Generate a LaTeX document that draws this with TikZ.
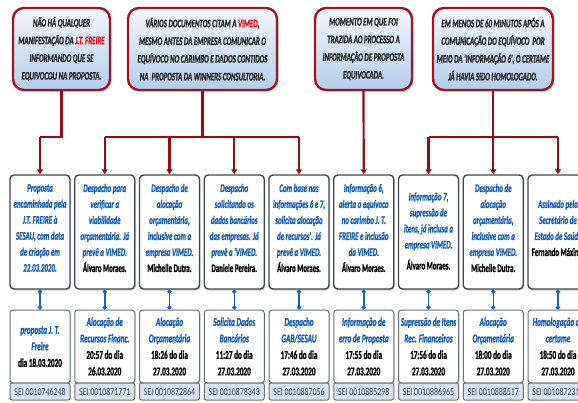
\documentclass[tikz,border=0pt]{standalone}
\usepackage{fontspec}
\setmainfont{Carlito}
\newfontfamily\cbfont{Carlito Bold Italic}[FakeStretch=0.6, FakeBold=1.2]
\newfontfamily\cnfont{Carlito Bold}[FakeStretch=0.6, FakeBold=1.2]
\newfontfamily\seifont{Carlito}[FakeStretch=0.75]
\usetikzlibrary{shadows,arrows.meta}
\definecolor{cred}{RGB}{150,12,22}
\definecolor{cborder}{RGB}{160,22,32}
\definecolor{ctop}{RGB}{244,247,252}
\definecolor{cbot}{RGB}{178,206,236}
\definecolor{tblue}{RGB}{22,92,178}
\definecolor{bgray}{RGB}{62,70,84}
\definecolor{lgray}{RGB}{105,110,122}
\definecolor{seifill}{RGB}{216,228,243}
\definecolor{seitext}{RGB}{60,68,85}
\definecolor{cblue}{RGB}{25,100,185}
\definecolor{hired}{RGB}{215,20,30}
\newcommand\nmx{\color{black}\cnfont}
\newcommand\hr[1]{\textcolor{hired}{#1}}
\begin{document}
\begin{tikzpicture}[x=1pt,y=-1pt,
  callout/.style={draw=cborder, line width=2.4pt, rounded corners=11pt,
    top color=ctop, bottom color=cbot,
    drop shadow={opacity=0.35, shadow xshift=1.5pt, shadow yshift=-2pt},
    align=center, inner sep=0pt,
    font=\cbfont\fontsize{11.5}{17.7}\selectfont, text=black!85},
  rline/.style={draw=cred, line width=2.8pt},
  rarrow/.style={draw=cred, line width=2.2pt, -{Triangle[width=6pt,length=5pt]}},
  boxu/.style={draw=bgray, line width=1.4pt, rounded corners=4pt, fill=white,
    drop shadow={opacity=0.4, shadow xshift=1pt, shadow yshift=-1.5pt},
    minimum width=60pt, minimum height=114pt, inner sep=0pt},
  utext/.style={align=center, inner sep=0pt, text=tblue,
    font=\cbfont\fontsize{11.5}{16}\selectfont},
  lowbox/.style={draw=lgray, line width=1pt, rounded corners=3pt, fill=white,
    drop shadow={opacity=0.3, shadow xshift=1pt, shadow yshift=-1pt},
    minimum width=60pt, minimum height=73pt, inner sep=0pt,
    align=center, text=tblue,
    font=\cbfont\fontsize{12}{16.5}\selectfont},
  seistrip/.style={draw=lgray, line width=1pt, rounded corners=2pt, fill=seifill,
    minimum width=60pt, minimum height=17pt, inner sep=0pt, text=seitext,
    font=\seifont\fontsize{10.5}{12}\selectfont},
  bconn/.style={draw=cblue, line width=1.5pt, {Circle[length=4pt]}-{Circle[length=4pt]}}
]
\useasboundingbox (0,0) rectangle (578,403);
\clip (0,0) rectangle (578,403);

% top callouts
\node[callout, minimum width=97pt, minimum height=82pt] (c1) at (61.5,49)
  {NÃO HÁ QUALQUER\\MANIFESTAÇÃO DA \hr{J.T. FREIRE}\\INFORMANDO QUE SE\\EQUIVOCOU NA PROPOSTA.};
\node[callout, minimum width=149pt, minimum height=82pt] (c2) at (202.5,49)
  {VÁRIOS DOCUMENTOS CITAM A \hr{VIMED},\\MESMO ANTES DA EMPRESA COMUNICAR O\\EQUÍVOCO NO CARIMBO E DADOS CONTIDOS\\NA\ \ PROPOSTA DA WINNERS CONSULTORIA.};
\node[callout, minimum width=97pt, minimum height=82pt] (c3) at (363.5,49)
  {MOMENTO EM QUE FOI\\TRAZIDA AO PROCESSO A\\INFORMAÇÃO DE PROPOSTA\\EQUIVOCADA.};
\node[callout, minimum width=120pt, minimum height=82pt] (c4) at (493,49)
  {EM MENOS DE 60 MINUTOS APÓS A\\COMUNICAÇÃO DO EQUÍVOCO\ \ POR\\MEIO DA 'INFORMAÇÃO 6', O CERTAME\\JÁ HAVIA SIDO HOMOLOGADO.};

% upper boxes
\node[boxu] (u1) at (40,232) {};
\node[boxu] (u2) at (104.75,232) {};
\node[boxu] (u3) at (169.5,232) {};
\node[boxu] (u4) at (234.25,232) {};
\node[boxu] (u5) at (299,232) {};
\node[boxu] (u6) at (363.75,232) {};
\node[boxu] (u7) at (428.5,232) {};
\node[boxu] (u8) at (493.25,232) {};
\node[boxu] (u9) at (558,232) {};

\node[utext] (ut1) at (40,228) {Proposta\\encaminhada pela\\J.T. FREIRE à\\SESAU, com data\\de criação em\\22.03.2020.};
\node[utext] (ut2) at (104.75,228) {Despacho para\\verificar a\\viabilidade\\orçamentária. Já\\prevê a VIMED.\\{\nmx Álvaro Moraes.}};
\node[utext] (ut3) at (169.5,228) {Despacho de\\alocação\\orçamentária,\\inclusive com a\\empresa VIMED.\\{\nmx Michelle Dutra.}};
\node[utext] (ut4) at (234.25,228) {Despacho\\solicitando os\\dados bancários\\das empresas. Já\\prevê a 'VIMED.\\{\nmx Daniele Pereira.}};
\node[utext] (ut5) at (299,228) {Com base nas\\informações 6 e 7,\\solicita alocação\\de recursos'. Já\\prevê a VIMED.\\{\nmx Álvaro Moraes.}};
\node[utext] (ut6) at (363.75,228) {Informação 6,\\alerta o equívoco\\no carimbo J. T.\\FREIRE e inclusão\\da VIMED.\\{\nmx Álvaro Moraes.}};
\node[utext] (ut7) at (428.5,231) {Informação 7,\\supressão de\\itens, já inclusa a\\empresa VIMED.\\[5pt]{\nmx Álvaro Moraes.}};
\node[utext] (ut8) at (493.25,228) {Despacho de\\alocação\\orçamentária,\\inclusive com a\\empresa VIMED.\\{\nmx Michelle Dutra.}};
\node[utext] (ut9) at (558,228) {Assinado pelo\\Secretário de\\Estado de Saúde\\{\nmx Fernando Máximo}};

% lower boxes
\node[lowbox] (l1) at (40,346.5) {proposta J. T.\\Freire\\{\nmx dia 18.03.2020}};
\node[lowbox] (l2) at (104.75,346.5) {Alocação de\\Recursos Financ.\\{\nmx 20:57 do dia}\\{\nmx 26.03.2020}};
\node[lowbox] (l3) at (169.5,346.5) {Alocação\\Orçamentária\\{\nmx 18:26 do dia}\\{\nmx 27.03.2020}};
\node[lowbox] (l4) at (234.25,346.5) {Solicita Dados\\Bancários\\{\nmx 11:27 do dia}\\{\nmx 27.03.2020}};
\node[lowbox] (l5) at (299,346.5) {Despacho\\GAB/SESAU\\{\nmx 17:46 do dia}\\{\nmx 27.03.2020}};
\node[lowbox] (l6) at (363.75,346.5) {Informação de\\erro de Proposta\\{\nmx 17:55 do dia}\\{\nmx 27.03.2020}};
\node[lowbox] (l7) at (428.5,346.5) {Supressão de Itens\\Rec. Financeiros\\{\nmx 17:56 do dia}\\{\nmx 27.03.2020}};
\node[lowbox] (l8) at (493.25,346.5) {Alocação\\Orçamentária\\{\nmx 18:00 do dia}\\{\nmx 27.03.2020}};
\node[lowbox] (l9) at (558,346.5) {Homologação do\\certame\\{\nmx 18:50 do dia}\\{\nmx 27.03.2020}};

\node[seistrip] (s1) at (40,391.5) {SEI 0010746248};
\node[seistrip] (s2) at (104.75,391.5) {SEI 0010871771};
\node[seistrip] (s3) at (169.5,391.5) {SEI 0010872864};
\node[seistrip] (s4) at (234.25,391.5) {SEI 0010878343};
\node[seistrip] (s5) at (299,391.5) {SEI 0010887056};
\node[seistrip] (s6) at (363.75,391.5) {SEI 0010885298};
\node[seistrip] (s7) at (428.5,391.5) {SEI 0010886965};
\node[seistrip] (s8) at (493.25,391.5) {SEI 0010888517};
\node[seistrip] (s9) at (558,391.5) {SEI 0010872316};

% blue connectors
\foreach \i in {1,...,9} { \draw[bconn] (u\i.south) -- (l\i.north); }

% red connectors
\coordinate (yb) at (0,137);
\draw[rline] (c1.south) |- (u1.north |- yb);
\draw[rarrow] (u1.north |- yb) -- (u1.north);

\draw[rline] (c2.south) -- (c2.south |- yb);
\draw[rline] (u2.north |- yb) -- (u5.north |- yb);
\foreach \i in {2,3,4,5} { \draw[rarrow] (u\i.north |- yb) -- (u\i.north); }

\draw[rarrow] (c3.south) -- (u6.north);

\draw[rline] (c4.south) -- (c4.south |- yb);
\draw[rline] (u7.north |- yb) -- (u9.north |- yb);
\foreach \i in {7,8,9} { \draw[rarrow] (u\i.north |- yb) -- (u\i.north); }
\end{tikzpicture}
\end{document}
